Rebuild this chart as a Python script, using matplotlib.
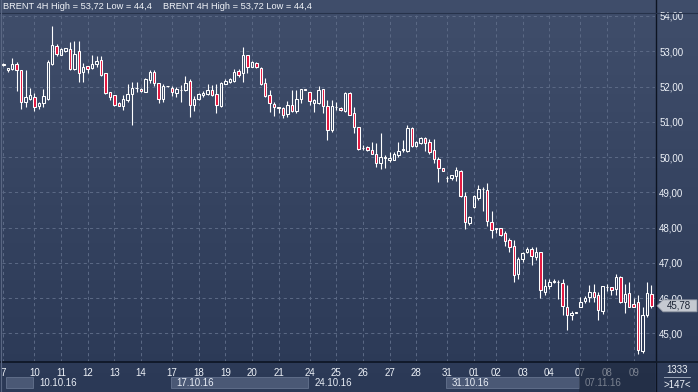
import numpy as np
import matplotlib
matplotlib.use('Agg')
import matplotlib.pyplot as plt
from matplotlib.colors import to_rgb
from matplotlib.lines import Line2D
from matplotlib.patches import Rectangle, Polygon
from matplotlib.transforms import IdentityTransform

plt.rcParams['font.family'] = ['Liberation Sans', 'DejaVu Sans']

# BRENT 4H candles (147 bars)
opens = [52.62, 52.48, 52.49, 52.65, 52.48, 51.57, 51.65, 51.69, 51.45, 51.52,
         51.66, 52.65, 53.14, 52.90, 53.01, 53.05, 52.51, 53.01, 52.40, 52.58,
         52.52, 52.63, 52.75, 52.37, 51.85, 51.75, 51.53, 51.46, 51.63, 51.80,
         51.96, 51.94, 51.85, 52.18, 52.40, 52.10, 51.66, 52.01, 51.97, 51.82,
         51.89, 51.90, 52.15, 51.47, 51.65, 51.75, 51.79, 51.90, 51.78, 51.44,
         52.08, 52.12, 52.16, 52.43, 52.37, 52.89, 52.56, 52.67, 52.53, 52.10,
         51.75, 51.49, 51.38, 51.40, 51.21, 51.47, 51.31, 51.66, 51.92, 51.85,
         51.52, 51.54, 51.92, 51.44, 50.76, 51.43, 51.40, 51.31, 51.82, 51.24,
         50.84, 50.26, 50.29, 50.20, 50.10, 49.82, 49.98, 49.91, 49.93, 50.06,
         50.20, 50.18, 50.81, 50.31, 50.39, 50.55, 50.43, 50.20, 49.95, 49.68,
         49.40, 49.40, 49.46, 49.61, 48.90, 48.12, 48.57, 48.85, 49.08, 49.06,
         48.17, 47.98, 47.99, 47.85, 47.65, 47.49, 46.67, 47.10, 47.31, 47.40,
         47.16, 47.31, 46.18, 46.35, 46.47, 46.47, 46.43, 45.74, 45.52, 45.58,
         45.76, 45.93, 46.02, 46.16, 46.08, 45.64, 46.31, 46.30, 46.27, 46.60,
         45.90, 46.13, 45.83, 45.88, 44.50, 45.52, 46.12]
closes = [52.65, 52.53, 52.63, 52.48, 51.57, 51.69, 51.75, 51.42, 51.52, 51.73,
          52.70, 53.17, 52.91, 53.07, 53.08, 52.50, 52.91, 52.37, 52.56, 52.50,
          52.65, 52.73, 52.34, 51.83, 51.69, 51.48, 51.46, 51.66, 51.80, 51.96,
          51.97, 51.86, 52.20, 52.40, 52.10, 51.66, 52.01, 52.01, 51.85, 51.93,
          51.90, 52.10, 51.47, 51.64, 51.78, 51.82, 51.90, 51.75, 51.47, 52.10,
          52.16, 52.20, 52.42, 52.34, 52.89, 52.56, 52.69, 52.54, 52.07, 51.73,
          51.52, 51.41, 51.42, 51.19, 51.47, 51.31, 51.66, 51.92, 51.91, 51.59,
          51.63, 51.90, 51.44, 50.76, 51.44, 51.42, 51.33, 51.82, 51.19, 50.84,
          50.23, 50.27, 50.20, 50.10, 49.82, 50.01, 49.99, 49.98, 50.10, 50.17,
          50.22, 50.81, 50.31, 50.43, 50.55, 50.39, 50.15, 49.95, 49.70, 49.61,
          49.41, 49.48, 49.64, 48.90, 48.15, 48.31, 48.90, 49.09, 49.09, 48.20,
          47.92, 47.96, 47.80, 47.63, 47.46, 46.65, 47.10, 47.29, 47.38, 47.18,
          47.32, 46.23, 46.35, 46.46, 46.48, 46.46, 45.77, 45.52, 45.59, 45.60,
          45.90, 45.99, 46.16, 46.04, 45.66, 46.34, 46.32, 46.24, 46.60, 45.90,
          46.11, 45.76, 45.76, 44.53, 45.52, 46.14, 45.78]
highs = [52.68, 52.53, 52.82, 52.70, 52.48, 52.46, 51.96, 51.82, 51.57, 51.92,
         52.76, 53.72, 53.20, 53.10, 53.10, 53.25, 53.29, 53.29, 52.67, 52.58,
         52.90, 52.86, 52.86, 52.37, 51.85, 51.75, 51.56, 51.76, 52.06, 52.13,
         52.13, 51.96, 52.23, 52.48, 52.48, 52.10, 52.08, 52.02, 52.01, 52.00,
         52.04, 52.29, 52.20, 51.73, 51.83, 51.88, 52.08, 52.04, 52.07, 52.12,
         52.20, 52.24, 52.51, 52.51, 53.12, 52.89, 52.73, 52.69, 52.56, 52.23,
         51.90, 51.57, 51.43, 51.42, 51.58, 51.90, 51.90, 51.92, 51.93, 51.85,
         51.66, 52.01, 51.92, 51.63, 51.61, 51.57, 51.42, 51.85, 51.85, 51.42,
         50.84, 50.34, 50.30, 50.43, 50.39, 50.67, 50.06, 50.15, 50.15, 50.43,
         50.48, 50.91, 50.84, 50.46, 50.58, 50.58, 50.52, 50.52, 50.00, 49.70,
         49.47, 49.48, 49.72, 49.62, 49.02, 48.34, 48.91, 49.21, 49.14, 49.25,
         48.46, 47.99, 47.99, 47.90, 47.71, 47.66, 47.16, 47.31, 47.45, 47.46,
         47.46, 47.31, 46.55, 46.55, 46.55, 46.50, 46.53, 46.37, 45.64, 45.61,
         46.02, 46.06, 46.37, 46.39, 46.18, 46.34, 46.39, 46.30, 46.68, 46.63,
         46.41, 46.46, 45.99, 46.08, 45.74, 46.45, 46.38]
lows = [52.58, 52.42, 52.46, 51.88, 51.35, 51.42, 51.61, 51.31, 51.35, 51.41,
        51.61, 52.60, 52.86, 52.88, 52.99, 52.48, 52.46, 52.12, 52.12, 52.37,
        52.50, 52.56, 52.31, 51.80, 51.63, 51.46, 51.44, 51.33, 51.57, 50.92,
        51.85, 51.84, 51.84, 52.10, 52.02, 51.52, 51.56, 52.00, 51.73, 51.71,
        51.57, 51.88, 51.14, 51.31, 51.63, 51.71, 51.75, 51.73, 51.25, 51.42,
        52.06, 52.10, 52.12, 52.27, 52.13, 52.39, 52.54, 52.52, 52.04, 51.71,
        51.28, 51.16, 51.25, 51.12, 51.14, 51.28, 51.25, 51.52, 51.90, 51.47,
        51.28, 51.50, 51.25, 50.48, 50.72, 51.33, 51.31, 51.28, 51.19, 50.67,
        50.20, 50.20, 50.18, 50.08, 49.73, 49.65, 49.68, 49.87, 49.91, 49.99,
        50.15, 50.15, 50.29, 50.29, 50.37, 50.16, 50.09, 49.83, 49.30, 49.59,
        49.30, 49.36, 49.32, 48.88, 47.96, 48.06, 48.56, 48.78, 48.48, 48.03,
        47.70, 47.84, 47.77, 47.49, 47.31, 46.46, 46.53, 47.02, 47.28, 46.93,
        47.09, 45.99, 46.08, 46.27, 46.43, 45.96, 45.52, 45.10, 45.38, 45.57,
        45.74, 45.85, 45.90, 45.90, 45.38, 45.55, 46.20, 46.08, 46.08, 45.87,
        45.59, 45.76, 45.76, 44.40, 44.45, 45.46, 45.71]

day_labels = ['7', '10', '11', '12', '13', '14', '17', '18', '19', '20', '21',
              '24', '25', '26', '27', '28', '31', '01', '02', '03', '04',
              '07', '08', '09']
day_bars = [0, 7, 13, 19, 25, 31, 38, 44, 50, 56, 62,
            69, 75, 81, 87, 93, 100, 106, 111, 117, 123,
            130, 136, 142]
week_labels = ['10.10.16', '17.10.16', '24.10.16', '31.10.16', '07.11.16']
week_bars = [7, 38, 69, 100, 130]
price_ticks = [45, 46, 47, 48, 49, 50, 51, 52, 53, 54]
last_price = 45.78
header = 'BRENT 4H High = 53,72 Low = 44,4'

W, H = 698, 392
fig = plt.figure(figsize=(W / 100, H / 100), dpi=100)

# background gradient
bg = fig.add_axes([0, 0, 1, 1])
bg.axis('off')
t = np.linspace(0, 1, H)[:, None]
grad = np.array(to_rgb('#404e6b')) * (1 - t) + np.array(to_rgb('#2b3956')) * t
bg.imshow(grad[:, None, :], aspect='auto', extent=[0, 1, 0, 1])
bg.set_xlim(0, 1)
bg.set_ylim(0, 1)

ax = fig.add_axes([2 / W, 30 / H, 653 / W, 349 / H])
ax.set_facecolor('none')

o = np.array(opens)
c = np.array(closes)
hi = np.array(highs)
lo = np.array(lows)
xs = np.arange(len(o))
top = np.maximum(o, c)
bot = np.minimum(o, c)
up = c >= o

ax.vlines(xs, top, hi, color='white', lw=0.8, zorder=3)
ax.vlines(xs, lo, bot, color='white', lw=0.8, zorder=3)
ax.bar(xs, top - bot, bottom=bot, width=0.55,
       color=['none' if u else '#e3173f' for u in up],
       edgecolor='white', linewidth=0.75, zorder=4)

ax.set_xlim(-0.3, len(o) - 0.2)
ax.set_ylim(44.187, 54.085)
ax.set_xticks(day_bars)
ax.set_xticklabels(day_labels)
ax.set_yticks(price_ticks)
ax.set_yticklabels(['{:.2f}'.format(v).replace('.', ',') for v in price_ticks])
ax.yaxis.tick_right()
ax.grid(True, color='#5a6884', lw=0.75, ls=(0, (3, 3)))
ax.set_axisbelow(True)
ax.tick_params(axis='both', length=0, labelsize=7, colors='#eef2f8')
ax.tick_params(axis='x', pad=4)
ax.tick_params(axis='y', pad=3)
for s in ['left', 'right', 'top']:
    ax.spines[s].set_visible(False)
ax.spines['bottom'].set_color('#111a2a')
ax.spines['bottom'].set_linewidth(1.2)

# current price tag (arrow box on the price scale), drawn in pixel coords
ypix = ax.transData.transform((0, last_price))[1]
tag = Polygon([(657, ypix), (663, ypix + 6), (697, ypix + 6), (697, ypix - 6), (663, ypix - 6)],
              closed=True, fc='#c5c9d1', ec='#8a919e', lw=0.6,
              transform=IdentityTransform(), zorder=10)
fig.add_artist(tag)
fig.text(667 / W, ypix / H, '{:.2f}'.format(last_price).replace('.', ','),
         ha='left', va='center', fontsize=7, color='#1a2233', zorder=11)

# bottom strip with week boxes
axb = fig.add_axes([2 / W, 0, 653 / W, 30 / H])
axb.set_xlim(ax.get_xlim())
axb.set_ylim(0, 30)
axb.axis('off')
starts = [0.6] + week_bars
for i in range(0, len(starts) - 1, 2):
    x0 = starts[i] - 0.3 if i else starts[i]
    axb.add_patch(Rectangle((x0, 4), starts[i + 1] - 0.3 - x0, 11,
                            fc='#4a5875', ec='#5f6d89', lw=0.7))
for lab, b in zip(week_labels, week_bars):
    axb.text(b + 1.0, 9.5, lab, ha='left', va='center', fontsize=7, color='#e8edf5')
axb.add_patch(Rectangle((week_bars[-1] - 0.3, 0), len(o), 30,
                        fc='#1e283c', alpha=0.55, lw=0, zorder=5))

# frame lines
fig.add_artist(Line2D([655.5 / W] * 2, [0, 1], color='#0d1422', lw=1.0))
fig.add_artist(Line2D([0, 1], [1 - 13 / H] * 2, color='#26324a', lw=0.8))
fig.add_artist(Line2D([0, 1], [30 / H] * 2, color='#111a2a', lw=1.2))
fig.add_artist(Line2D([0.5 / W] * 2, [0, 1], color='#5a6783', lw=0.8))

# header and right-bottom counter
fig.text(3 / W, 1 - 6.5 / H, header, ha='left', va='center', fontsize=6.7, color='#f0f3f8')
fig.text(163 / W, 1 - 6.5 / H, header, ha='left', va='center', fontsize=6.7, color='#f0f3f8')
fig.text(677 / W, 1 - 370 / H, '1333', ha='center', va='center', fontsize=7, color='#eef2f8')
fig.add_artist(Line2D([664 / W, 690 / W], [1 - 377 / H] * 2, color='#9aa5b8', lw=0.7))
fig.text(677 / W, 1 - 384.5 / H, '>147<', ha='center', va='center', fontsize=7, color='#eef2f8')

fig.savefig('out.png', dpi=100)
